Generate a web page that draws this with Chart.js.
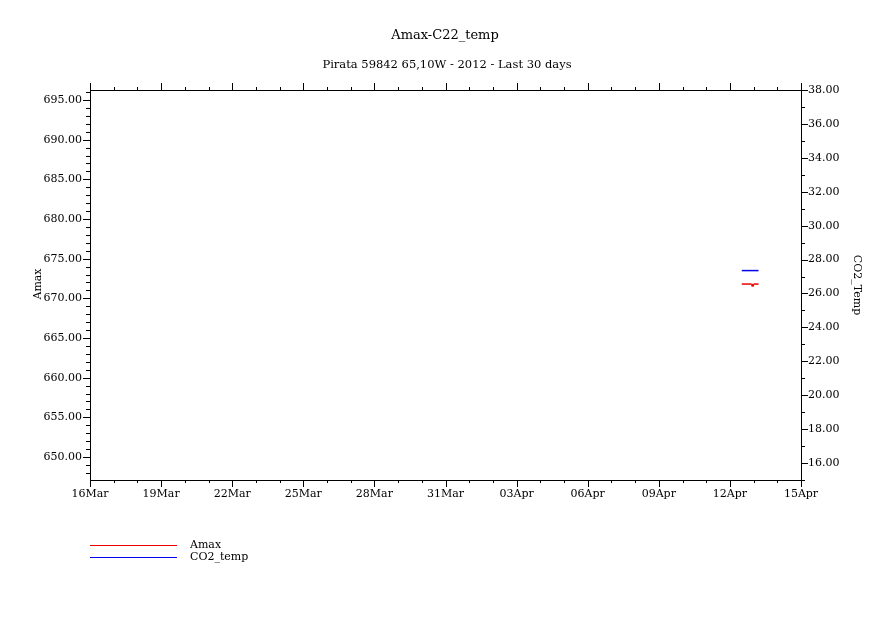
<!DOCTYPE html>
<html>
<head>
<meta charset="utf-8">
<title>Amax-C22_temp</title>
<script src="https://cdn.jsdelivr.net/npm/chart.js@4/dist/chart.umd.min.js"></script>
<style>
  body { margin: 0; background: #fff; }
  canvas { display: block; }
</style>
</head>
<body>
<canvas id="myChart" width="891" height="630"></canvas>
<script>
// hours since 16Mar 00:00
const hours = [660, 661, 662, 663, 664, 665, 666, 667, 668, 669, 670, 671, 672, 673, 674, 675, 676, 677];
const amaxValues = [671.8, 671.8, 671.8, 671.8, 671.8, 671.8, 671.8, 671.8, 671.8, 671.8, 671.8,
                    671.65, 671.8, 671.8, 671.8, 671.8, 671.8, 671.8];
const co2TempValues = [27.35, 27.35, 27.35, 27.35, 27.35, 27.35, 27.35, 27.35, 27.35,
                       27.35, 27.35, 27.35, 27.35, 27.35, 27.35, 27.35, 27.35, 27.35];
const dateLabels = ['16Mar', '19Mar', '22Mar', '25Mar', '28Mar', '31Mar', '03Apr', '06Apr', '09Apr', '12Apr', '15Apr'];

const titleText = 'Amax-C22_temp';
const subtitleText = 'Pirata 59842 65,10W - 2012 - Last 30 days';
const seriesNames = ['Amax', 'CO2_temp'];
const RED = 'rgb(235,0,0)';
const BLUE = 'rgb(0,0,235)';
const FONT = '"DejaVu Serif", serif';

function toPoints(xs, ys) {
    return xs.map((x, i) => ({ x: x, y: ys[i] }));
}

// frame, ticks, titles and legend
const decorPlugin = {
    id: 'decor',
    afterDraw(chart) {
        const ctx = chart.ctx;
        const a = chart.chartArea;
        const x = chart.scales.x;
        const yL = chart.scales.y;
        const yR = chart.scales.y1;
        ctx.save();
        ctx.strokeStyle = '#000';
        ctx.lineWidth = 1;
        ctx.strokeRect(Math.round(a.left) + 0.5, Math.round(a.top) + 0.5,
            Math.round(a.right - a.left), Math.round(a.bottom - a.top));

        ctx.beginPath();
        for (let h = 0; h <= 720; h += 24) {
            const px = Math.round(x.getPixelForValue(h)) + 0.5;
            const len = h % 72 === 0 ? 7 : 3;
            ctx.moveTo(px, a.bottom); ctx.lineTo(px, a.bottom + len);
            ctx.moveTo(px, a.top); ctx.lineTo(px, a.top - len);
        }
        for (let v = Math.ceil(yL.min); v <= yL.max; v++) {
            const py = Math.round(yL.getPixelForValue(v)) + 0.5;
            const len = v % 5 === 0 ? 7 : 4;
            ctx.moveTo(a.left, py); ctx.lineTo(a.left - len, py);
        }
        for (let v = Math.ceil(yR.min); v <= yR.max; v++) {
            const py = Math.round(yR.getPixelForValue(v)) + 0.5;
            const len = v % 2 === 0 ? 7 : 4;
            ctx.moveTo(a.right, py); ctx.lineTo(a.right + len, py);
        }
        ctx.stroke();

        ctx.fillStyle = '#000';
        ctx.textAlign = 'center';
        ctx.textBaseline = 'middle';
        ctx.font = '13px ' + FONT;
        ctx.fillText(titleText, 445, 36);
        ctx.font = '11.5px ' + FONT;
        ctx.fillText(subtitleText, 447, 65);

        ctx.font = '11px ' + FONT;
        ctx.save();
        ctx.translate(38, 284);
        ctx.rotate(-Math.PI / 2);
        ctx.fillText('Amax', 0, 0);
        ctx.restore();
        ctx.save();
        ctx.translate(857, 285);
        ctx.rotate(Math.PI / 2);
        ctx.fillText('CO2_Temp', 0, 0);
        ctx.restore();

        const colors = [RED, BLUE];
        ctx.textAlign = 'left';
        seriesNames.forEach((name, i) => {
            const ly = 545 + i * 12;
            ctx.strokeStyle = colors[i];
            ctx.beginPath();
            ctx.moveTo(90, ly + 0.5); ctx.lineTo(177, ly + 0.5);
            ctx.stroke();
            ctx.fillStyle = '#000';
            ctx.font = '11px ' + FONT;
            ctx.fillText(name, 190, ly);
        });
        ctx.restore();
    }
};

const data = {
    datasets: [{
        label: seriesNames[0],
        data: toPoints(hours, amaxValues),
        borderColor: RED,
        backgroundColor: RED,
        borderWidth: 1.5,
        pointRadius: (c) => c.dataIndex === 11 ? 0.8 : 0,
        segment: {
            borderColor: (c) => (c.p0DataIndex === 10 || c.p0DataIndex === 11) ? 'transparent' : RED
        },
        yAxisID: 'y'
    }, {
        label: seriesNames[1],
        data: toPoints(hours, co2TempValues),
        borderColor: BLUE,
        backgroundColor: BLUE,
        borderWidth: 1.5,
        pointRadius: 0,
        yAxisID: 'y1'
    }]
};

const tickFont = { family: FONT, size: 11 };
const noGrid = { display: false, drawTicks: false };

const config = {
    type: 'line',
    data: data,
    plugins: [decorPlugin],
    options: {
        responsive: false,
        animation: false,
        devicePixelRatio: 1,
        layout: { padding: { top: 90, left: 0, right: 0, bottom: 0 } },
        plugins: {
            legend: { display: false },
            title: { display: false },
            tooltip: { enabled: false }
        },
        scales: {
            x: {
                type: 'linear',
                min: 0,
                max: 720,
                grid: noGrid,
                border: { display: false },
                afterFit: (s) => { s.height = 150; },
                ticks: {
                    stepSize: 72,
                    includeBounds: false,
                    autoSkip: false,
                    maxRotation: 0,
                    padding: 8,
                    color: '#000',
                    font: tickFont,
                    callback: (v) => dateLabels[Math.round(v / 72)]
                }
            },
            y: {
                position: 'left',
                min: 647.1,
                max: 696.26,
                grid: noGrid,
                border: { display: false },
                afterFit: (s) => { s.width = 90; },
                ticks: {
                    stepSize: 5,
                    includeBounds: false,
                    padding: 8,
                    color: '#000',
                    font: tickFont,
                    callback: (v) => v.toFixed(2)
                }
            },
            y1: {
                position: 'right',
                min: 15,
                max: 38,
                grid: noGrid,
                border: { display: false },
                afterFit: (s) => { s.width = 90; },
                ticks: {
                    stepSize: 2,
                    includeBounds: false,
                    padding: 7,
                    color: '#000',
                    font: tickFont,
                    callback: (v) => v.toFixed(2)
                }
            }
        }
    }
};

const chart = new Chart(document.querySelector('#myChart'), config);
</script>
</body>
</html>
